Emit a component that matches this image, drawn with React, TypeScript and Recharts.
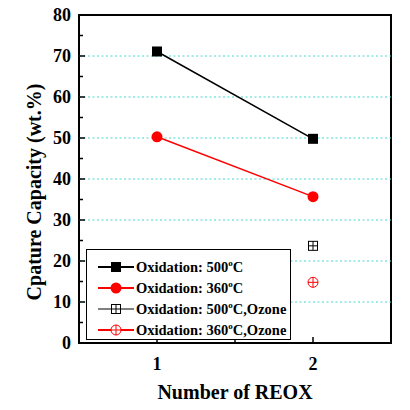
import React from "react";
import { Line, LineChart, ReferenceArea, ReferenceLine, XAxis, YAxis } from "recharts";

const reox = [1, 2];
const oxidation500 = [71.1, 49.8];
const oxidation360 = [50.3, 35.7];
const ozoneReox = [2];
const ozone500 = [23.7];
const ozone360 = [14.8];

const xTicks = [1, 1.5, 2];
const yTicks = [0, 5, 10, 15, 20, 25, 30, 35, 40, 45, 50, 55, 60, 65, 70, 75, 80];
const gridValues = [10, 20, 30, 40, 50, 60, 70];

const font = "'Liberation Serif', 'Times New Roman', serif";
const red = "#ff0000";
const grid = "#45d8d0";

const xs = [...new Set([...reox, ...ozoneReox])].sort((a, b) => a - b);
const data = xs.map((n) => {
  const i = reox.indexOf(n);
  const j = ozoneReox.indexOf(n);
  return {
    n,
    ox500: i >= 0 ? oxidation500[i] : null,
    ox360: i >= 0 ? oxidation360[i] : null,
    oz500: j >= 0 ? ozone500[j] : null,
    oz360: j >= 0 ? ozone360[j] : null,
  };
});

const X_MARGIN = 14;
const Y_MARGIN = 8;
const tickStyle = { fontFamily: font, fontWeight: "bold", fontSize: 18, fill: "#000" };

function XTick(props: any) {
  const { x, y, payload } = props;
  const axisY = y - X_MARGIN;
  const major = Number.isInteger(payload.value);
  return (
    <g>
      <line x1={x} x2={x} y1={axisY} y2={axisY - (major ? 6 : 4)} stroke="#000" strokeWidth={1.5} />
      {major && (
        <text x={x} y={y} dy="0.71em" textAnchor="middle" style={tickStyle}>
          {payload.value}
        </text>
      )}
    </g>
  );
}

function YTick(props: any) {
  const { x, y, payload } = props;
  const axisX = x + Y_MARGIN;
  const major = payload.value % 10 === 0;
  return (
    <g>
      <line x1={axisX} x2={axisX + (major ? 6 : 4)} y1={y} y2={y} stroke="#000" strokeWidth={1.5} />
      {major && (
        <text x={x} y={y} dy="0.355em" textAnchor="end" style={tickStyle}>
          {payload.value}
        </text>
      )}
    </g>
  );
}

function squareDot(fill: boolean) {
  return (props: any) => {
    const { cx, cy, index, value } = props;
    if (value == null || cx == null) return <g key={`s${index}`} />;
    if (fill) return <rect key={`s${index}`} x={cx - 5} y={cy - 5} width={10} height={10} fill="#000" />;
    return (
      <g key={`s${index}`}>
        <rect x={cx - 4.5} y={cy - 4.5} width={9} height={9} fill="#fff" stroke="#000" strokeWidth={1} />
        <line x1={cx} x2={cx} y1={cy - 4.5} y2={cy + 4.5} stroke="#000" strokeWidth={1} />
        <line x1={cx - 4.5} x2={cx + 4.5} y1={cy} y2={cy} stroke="#000" strokeWidth={1} />
      </g>
    );
  };
}

function circleDot(fill: boolean) {
  return (props: any) => {
    const { cx, cy, index, value } = props;
    if (value == null || cx == null) return <g key={`c${index}`} />;
    if (fill) return <circle key={`c${index}`} cx={cx} cy={cy} r={5.5} fill={red} />;
    return (
      <g key={`c${index}`}>
        <circle cx={cx} cy={cy} r={5} fill="#fff" stroke={red} strokeWidth={1} />
        <line x1={cx} x2={cx} y1={cy - 5} y2={cy + 5} stroke={red} strokeWidth={1} />
        <line x1={cx - 5} x2={cx + 5} y1={cy} y2={cy} stroke={red} strokeWidth={1} />
      </g>
    );
  };
}

const legendItems = [
  { label: "500", ozone: false, color: "#000", marker: "square" },
  { label: "360", ozone: false, color: red, marker: "circle" },
  { label: "500", ozone: true, color: "#000", marker: "square" },
  { label: "360", ozone: true, color: red, marker: "circle" },
];

function LegendIcon({ color, marker, ozone }: { color: string; marker: string; ozone: boolean }) {
  const cx = 18;
  const cy = 10;
  const lineWidth = marker === "square" && ozone ? 1 : 2;
  return (
    <svg width={36} height={20} style={{ display: "block" }}>
      <line x1={0} x2={36} y1={cy} y2={cy} stroke={color} strokeWidth={lineWidth} />
      {marker === "square" && !ozone && <rect x={cx - 5} y={cy - 5} width={10} height={10} fill="#000" />}
      {marker === "square" && ozone && (
        <g>
          <rect x={cx - 4.5} y={cy - 4.5} width={9} height={9} fill="#fff" stroke="#000" strokeWidth={1} />
          <line x1={cx} x2={cx} y1={cy - 4.5} y2={cy + 4.5} stroke="#000" strokeWidth={1} />
          <line x1={cx - 4.5} x2={cx + 4.5} y1={cy} y2={cy} stroke="#000" strokeWidth={1} />
        </g>
      )}
      {marker === "circle" && !ozone && <circle cx={cx} cy={cy} r={5.5} fill={red} />}
      {marker === "circle" && ozone && (
        <g>
          <circle cx={cx} cy={cy} r={5} fill="#fff" stroke={red} strokeWidth={1} />
          <line x1={cx} x2={cx} y1={cy - 5} y2={cy + 5} stroke={red} strokeWidth={1} />
          <line x1={cx - 5} x2={cx + 5} y1={cy} y2={cy} stroke={red} strokeWidth={1} />
        </g>
      )}
    </svg>
  );
}

export default function App() {
  return (
    <div style={{ position: "absolute", left: 0, top: 0, width: 410, height: 410, background: "#fff" }}>
      <LineChart width={410} height={410} data={data} margin={{ top: 15, right: 19, bottom: 0, left: 0 }}>
        <XAxis
          dataKey="n"
          type="number"
          domain={[0.5, 2.5]}
          ticks={xTicks}
          interval={0}
          tickSize={0}
          tickMargin={X_MARGIN}
          axisLine={false}
          tickLine={false}
          tick={<XTick />}
          height={67}
          label={{
            value: "Number of REOX",
            position: "insideBottom",
            offset: 11,
            style: { fontFamily: font, fontWeight: "bold", fontSize: 20, fill: "#000" },
          }}
        />
        <YAxis
          type="number"
          domain={[0, 80]}
          ticks={yTicks}
          interval={0}
          tickSize={0}
          tickMargin={Y_MARGIN}
          axisLine={false}
          tickLine={false}
          tick={<YTick />}
          width={79}
          label={{
            content: () => (
              <text
                x={34}
                y={192}
                transform="rotate(-90, 34, 192)"
                textAnchor="middle"
                dy="0.355em"
                style={{ fontFamily: font, fontWeight: "bold", fontSize: 20, fill: "#000" }}
              >
                Cpature Capacity (wt.%)
              </text>
            ),
          }}
        />
        {gridValues.map((v) => (
          <ReferenceLine key={v} y={v} stroke={grid} strokeWidth={1} strokeDasharray="2 2.5" />
        ))}
        <ReferenceArea x1={0.5} x2={2.5} y1={0} y2={80} fill="none" stroke="#000" strokeWidth={2} />
        <Line dataKey="ox500" stroke="#000" strokeWidth={1.5} dot={squareDot(true)} connectNulls isAnimationActive={false} />
        <Line dataKey="ox360" stroke={red} strokeWidth={1.5} dot={circleDot(true)} connectNulls isAnimationActive={false} />
        <Line dataKey="oz500" stroke="none" dot={squareDot(false)} isAnimationActive={false} />
        <Line dataKey="oz360" stroke="none" dot={circleDot(false)} isAnimationActive={false} />
      </LineChart>
      <div
        style={{
          position: "absolute",
          left: 86,
          top: 249,
          width: 203,
          height: 83,
          border: "1px solid #000",
          background: "#fff",
          paddingTop: 6,
          boxSizing: "content-box",
        }}
      >
        {legendItems.map((item, i) => (
          <div key={i} style={{ display: "flex", alignItems: "center", height: 21, paddingLeft: 11 }}>
            <LegendIcon color={item.color} marker={item.marker} ozone={item.ozone} />
            <span
              style={{
                marginLeft: 2,
                fontFamily: font,
                fontWeight: "bold",
                fontSize: 14.5,
                color: "#000",
                whiteSpace: "nowrap",
              }}
            >
              Oxidation: {item.label}
              <sup style={{ fontSize: 9, verticalAlign: "6px" }}>o</sup>C{item.ozone ? ",Ozone" : ""}
            </span>
          </div>
        ))}
      </div>
    </div>
  );
}
